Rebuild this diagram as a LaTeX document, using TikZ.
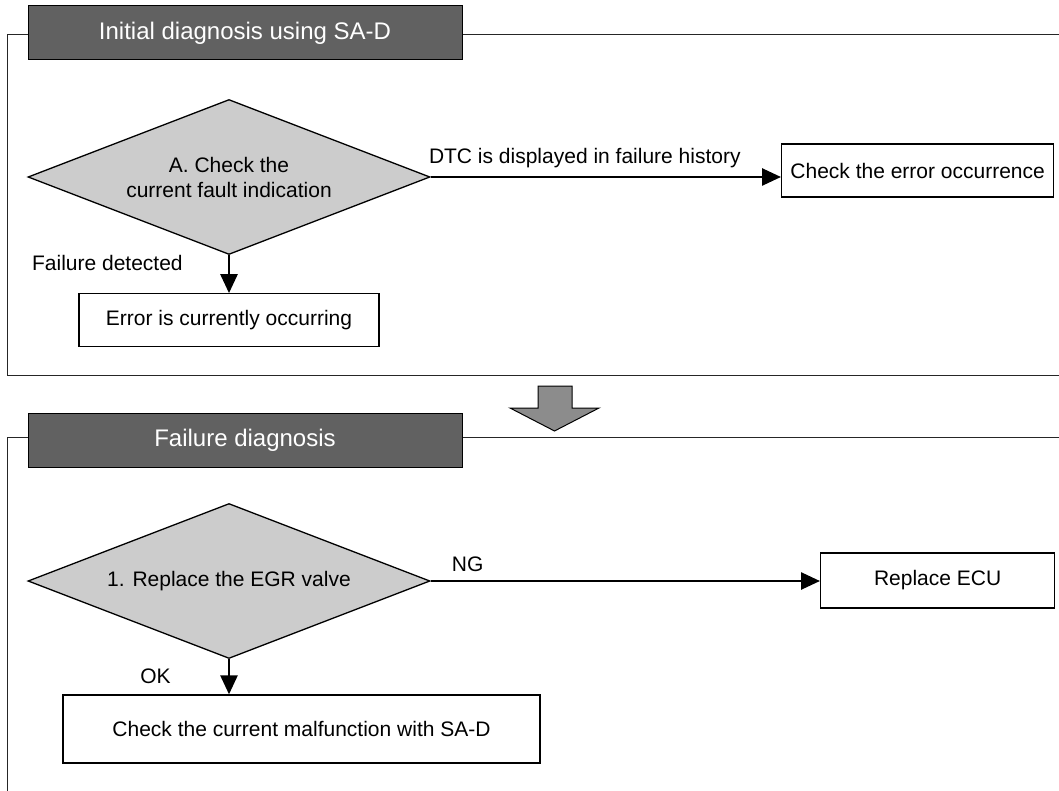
\documentclass[tikz,border=0pt]{standalone}
\usepackage{fontspec}
\setmainfont{Liberation Sans}
\usetikzlibrary{arrows.meta,positioning,shapes.geometric}

\begin{document}
\begin{tikzpicture}[x=1pt,y=-1pt,
  >={Triangle[length=19pt,width=17pt]},
  frm/.style={line width=1pt,black!85},
  ttl/.style={draw,line width=1pt,fill=black!62,text=white,minimum width=434pt,minimum height=54pt,inner sep=0pt,font=\fontsize{24}{28}\selectfont},
  dec/.style={draw,diamond,aspect=2.59,line width=1.3pt,fill=black!20,minimum width=402pt,minimum height=155pt,inner sep=0pt,align=center,font=\fontsize{21}{25}\selectfont},
  box/.style={draw,line width=1.3pt,fill=white,inner sep=0pt,font=\fontsize{21}{25}\selectfont},
  lbl/.style={font=\fontsize{21}{25}\selectfont,inner sep=2pt},
  link/.style={->,line width=2.6pt}]
  \useasboundingbox (0,0) rectangle (1059,791);
  \draw[frm] (1059,35) -- (7,35) -- (7,375) -- (1059,375);
  \draw[frm] (1059,437) -- (7,437) -- (7,791);
  \node[ttl] (t1) at (245,33) {Initial diagnosis using SA-D};
  \node[ttl] (t2) at (245,440) {Failure diagnosis};
  \node[dec] (d1) at (229,177) {A. Check the\\current fault indication};
  \node[box,minimum width=300pt,minimum height=53pt,below=38pt of d1] (err) {Error is currently occurring};
  \node[box,minimum width=272pt,minimum height=53pt,anchor=west] (chk) at (781,170.5) {Check the error occurrence};
  \node[dec] (d2) at (229,581) {1. Replace the EGR valve};
  \node[box,minimum width=234pt,minimum height=55pt,anchor=west] (ecu) at (820,580.5) {Replace ECU};
  \node[box,minimum width=477pt,minimum height=68pt] (mal) at (301.5,729) {Check the current malfunction with SA-D};
  \draw[link] (d1.south) -- (err.north) node[lbl,pos=.2,left=43pt] (lfail) {Failure detected};
  \draw[link] (d1.east) -- (d1.east -| chk.west) node[lbl,pos=.44,above=5.5pt] (ldtc) {DTC is displayed in failure history};
  \draw[link] (d2.east) -- (d2.east -| ecu.west) node[lbl,pos=.095,above=6pt] (lng) {NG};
  \draw[link] (d2.south) -- (d2.south |- mal.north) node[lbl,midway,left=55pt] (lok) {OK};
  \draw[line width=1pt,fill=black!45] (538,386) -- (572,386) -- (572,408) -- (599,408)
    -- (554.5,431) -- (510,408) -- (538,408) -- cycle;
\end{tikzpicture}
\end{document}
